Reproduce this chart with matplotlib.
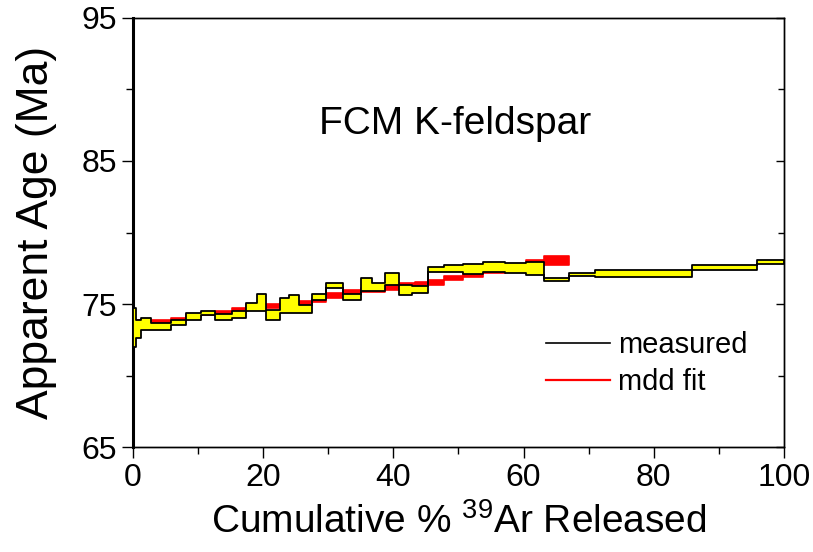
import numpy as np
import matplotlib
matplotlib.use('Agg')
import matplotlib.pyplot as plt
from matplotlib.ticker import MultipleLocator

plt.rcParams['font.family'] = ['Liberation Sans', 'DejaVu Sans']
plt.rcParams['mathtext.default'] = 'regular'

# measured spectrum: step edges (% 39Ar) and age band (Ma)
meas_x = [0, 0.5, 1.2, 2.7, 5.8, 8.2, 10.4, 12.6, 15.2, 17.3, 19.1, 20.4, 22.6,
          23.9, 25.5, 27.5, 29.7, 32.2, 35.1, 36.7, 38.7, 40.8, 42.8, 45.3,
          47.8, 50.7, 53.8, 57.2, 60.3, 63.2, 66.9, 71.0, 85.8, 95.8, 100]
meas_lo = [72.0, 72.6, 73.2, 73.2, 73.5, 73.9, 74.2, 73.9, 74.0, 74.5, 74.5,
           73.9, 74.35, 74.35, 74.35, 75.25, 76.1, 75.3, 75.9, 75.9, 76.3,
           75.6, 75.8, 77.25, 77.25, 77.1, 77.25, 77.15, 77.0, 76.6, 76.95,
           76.9, 77.4, 77.8]
meas_hi = [74.7, 73.9, 74.0, 73.7, 73.9, 74.4, 74.5, 74.3, 74.5, 75.05, 75.7,
           74.6, 75.45, 75.6, 74.9, 75.7, 76.5, 75.7, 76.8, 76.45, 77.2,
           76.3, 76.25, 77.6, 77.7, 77.8, 77.95, 77.85, 77.95, 76.85, 77.2,
           77.4, 77.7, 78.1]

# mdd model fit
fit_x = [0, 2.7, 5.8, 8.2, 10.4, 12.6, 15.2, 17.3, 22.6, 25.5, 27.5, 29.7,
         32.2, 35.1, 38.7, 40.8, 43.3, 45.3, 47.8, 50.7, 53.8, 57.2, 60.3,
         63.2, 66.9]
fit_lo = [73.6, 73.7, 73.8, 74.1, 74.2, 74.3, 74.4, 74.7, 74.85, 75.0, 75.15,
          75.4, 75.6, 75.85, 75.95, 76.15, 76.3, 76.35, 76.65, 76.9, 77.2,
          77.5, 77.8, 77.7]
fit_hi = [73.9, 73.9, 74.0, 74.3, 74.4, 74.5, 74.7, 75.0, 75.1, 75.2, 75.4,
          75.75, 75.95, 76.15, 76.25, 76.45, 76.55, 76.7, 76.95, 77.15, 77.5,
          77.8, 78.05, 78.35]

fig = plt.figure(figsize=(8.13, 5.52), dpi=100)
ax = fig.add_axes([0.1636, 0.1902, 0.8007, 0.7772])

# red fit band under the measured band
ax.fill_between(fit_x, fit_lo + fit_lo[-1:], fit_hi + fit_hi[-1:], step='post',
                facecolor='red', edgecolor='red', linewidth=1.2, zorder=2)
ax.fill_between(meas_x, meas_lo + meas_lo[-1:], meas_hi + meas_hi[-1:], step='post',
                facecolor='yellow', edgecolor='black', linewidth=1.3, zorder=3)

# legend proxies
ax.plot([], [], color='black', lw=1.2, label='measured')
ax.plot([], [], color='red', lw=1.6, label='mdd fit')
ax.legend(loc='lower right', bbox_to_anchor=(0.985, 0.058), frameon=False,
          fontsize=21, handlelength=2.2, handletextpad=0.3, labelspacing=0.3)

ax.text(49.5, 87.6, 'FCM K-feldspar', fontsize=28, ha='center', va='center')

ax.set_xlim(0, 100)
ax.set_ylim(65, 95)
ax.xaxis.set_major_locator(MultipleLocator(20))
ax.xaxis.set_minor_locator(MultipleLocator(10))
ax.yaxis.set_minor_locator(MultipleLocator(5))
ax.set_yticks([65, 75, 85, 95])
ax.tick_params(which='both', direction='out', labelsize=23, top=False, right=False)
ax.tick_params(which='major', length=8, width=1)
ax.tick_params(which='minor', length=5, width=1)

# right-hand axis with inward ticks, no labels
rax = ax.twinx()
rax.set_ylim(65, 95)
rax.set_yticks([65, 75, 85, 95])
rax.yaxis.set_minor_locator(MultipleLocator(5))
rax.tick_params(which='both', direction='in', labelright=False, width=1)
rax.tick_params(which='major', length=6)
rax.tick_params(which='minor', length=4)

ax.spines['left'].set_linewidth(2.2)
for s in ['bottom', 'top', 'right']:
    ax.spines[s].set_linewidth(1.0)
    rax.spines[s].set_linewidth(1.0)
rax.spines['left'].set_visible(False)

ax.set_xlabel(r'Cumulative % $^{39}$Ar Released', fontsize=28, labelpad=7)
ax.set_ylabel('Apparent Age (Ma)', fontsize=32, labelpad=18)

fig.savefig('out.png', dpi=100)
